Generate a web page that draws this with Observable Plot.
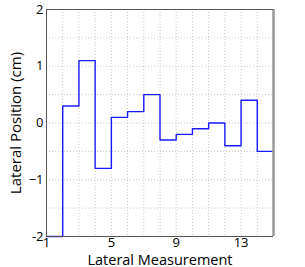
<!DOCTYPE html>
<html>
<head>
<meta charset="utf-8">
<script src="https://cdn.jsdelivr.net/npm/d3@7"></script>
<script src="https://cdn.jsdelivr.net/npm/@observablehq/plot@0.6"></script>
<style>
body { margin: 0; background: #fff; }
</style>
</head>
<body>
<div id="chart"></div>
<script>
const measurements = [1, 2, 3, 4, 5, 6, 7, 8, 9, 10, 11, 12, 13, 14, 15];
const positions = [-2, 0.3, 1.1, -0.8, 0.1, 0.2, 0.5, -0.3, -0.2, -0.1, 0.0, -0.4, 0.4, -0.5, -0.5];
const xTicks = [1, 5, 9, 13];
const yTicks = [-2, -1, 0, 1, 2];
const yTickLabels = ["-2", "\u22121", "0", "1", "2"];
const xGrid = [2, 3, 4, 5, 6, 7, 8, 9, 10, 11, 12, 13, 14];
const yGrid = [-1.5, -1, -0.5, 0, 0.5, 1, 1.5];

const data = measurements.map((m, i) => ({x: m, y: positions[i]}));

const chart = Plot.plot({
  width: 305,
  height: 267,
  marginLeft: 46,
  marginRight: 32,
  marginTop: 9,
  marginBottom: 31,
  style: {fontFamily: "'Open Sans', sans-serif", fontSize: "13px", color: "#000", background: "#fff"},
  x: {domain: [1, 15], ticks: xTicks, tickSize: 0, tickPadding: 1, label: "Lateral Measurement", labelAnchor: "center", labelArrow: "none", labelOffset: 28},
  y: {domain: [-2, 2], ticks: yTicks, tickSize: 0, tickPadding: 3, tickFormat: d => yTickLabels[yTicks.indexOf(d)], label: "Lateral Position (cm)", labelAnchor: "center", labelArrow: "none", labelOffset: 36},
  marks: [
    Plot.ruleX(xGrid, {stroke: "#c8c8c8", strokeDasharray: "1,2", strokeWidth: 1}),
    Plot.ruleY(yGrid, {stroke: "#c8c8c8", strokeDasharray: "1,2", strokeWidth: 1}),
    Plot.line(data, {x: "x", y: "y", curve: "step-after", stroke: "#1a1aff", strokeWidth: 1.4}),
    Plot.ruleX([15], {stroke: "#999", strokeWidth: 2.5}),
    Plot.ruleY([2], {stroke: "#555", strokeWidth: 1}),
    Plot.ruleY([-2], {stroke: "#555", strokeWidth: 1}),
    Plot.ruleX([1], {stroke: "#555", strokeWidth: 1})
  ]
});
chart.querySelectorAll("g[aria-label='x-axis tick label'] text, g[aria-label='y-axis tick label'] text").forEach(t => t.setAttribute("font-size", "13"));
chart.querySelectorAll("g[aria-label='x-axis label'] text").forEach(t => t.setAttribute("font-size", "14.5"));
chart.querySelectorAll("g[aria-label='y-axis label'] text").forEach(t => t.setAttribute("font-size", "15"));
document.getElementById("chart").appendChild(chart);
</script>
</body>
</html>
